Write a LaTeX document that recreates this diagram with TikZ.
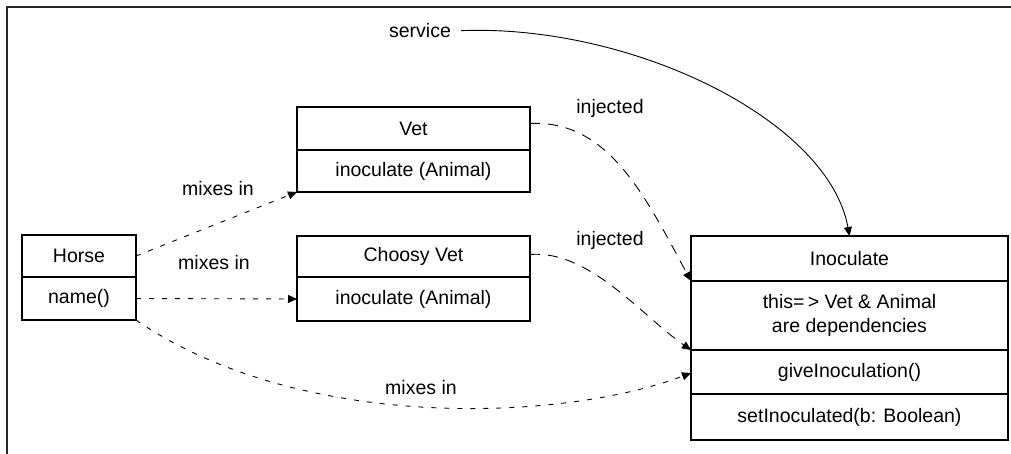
\documentclass[tikz,border=0pt]{standalone}
\usepackage{fontspec}
\setmainfont{Liberation Sans}
\usepackage{tikz}
\usetikzlibrary{positioning,arrows.meta}

\begin{document}
\begin{tikzpicture}[
  x=1pt, y=-1pt,
  every node/.style={font=\fontsize{19.5}{24}\selectfont},
  cls/.style={
    draw, line width=1.1pt, align=center, inner sep=0pt, outer sep=0pt,
    anchor=north
  },
  lbl/.style={inner sep=1pt},
  tip/.style={-{Triangle[length=9pt,width=8pt]}},
  mix/.style={tip, line width=0.9pt, dash pattern=on 5pt off 8pt},
  inj/.style={tip, line width=0.9pt, dash pattern=on 10pt off 8pt},
  svc/.style={tip, line width=0.9pt}
]
\useasboundingbox (0,0) rectangle (1011,454);
\draw[line width=1.3pt, black!85] (7,454) -- (7,7) -- (1011,7);

% classes
\node[cls, minimum width=114, minimum height=42, anchor=north west] (horse) at (22,235) {Horse};
\node[cls, minimum width=114, minimum height=43, below=0pt of horse] (hname) {name()};

\node[cls, minimum width=233, minimum height=43, anchor=north west] (vet) at (297,107) {Vet};
\node[cls, minimum width=233, minimum height=42, below=0pt of vet] (vetop) {inoculate (Animal)};

\node[cls, minimum width=233, minimum height=41, anchor=north west] (cvet) at (297,236) {Choosy Vet};
\node[cls, minimum width=233, minimum height=44, below=0pt of cvet] (cvop) {inoculate (Animal)};

\node[cls, minimum width=317, minimum height=45, anchor=north west] (ino) at (691,236) {Inoculate};
\node[cls, minimum width=317, minimum height=69, below=0pt of ino] (inodeps) {this=\,> Vet \& Animal\\are dependencies};
\node[cls, minimum width=317, minimum height=44, below=0pt of inodeps] (inogive) {giveInoculation()};
\node[cls, minimum width=317, minimum height=46, below=0pt of inogive] (inoset) {setInoculated(b: Boolean)};

% labels
\node[lbl] (service) at (420,31) {service};
\node[lbl] (injvet) at (610,108) {injected};
\node[lbl] (injcvet) at (610,240) {injected};
\node[lbl] (mixvet) at (218,189) {mixes in};
\node[lbl] (mixcvet) at (214,263) {mixes in};
\node[lbl] (mixino) at (421,388) {mixes in};

% connectors
\draw[svc, shorten <=9pt] (service.east) .. controls +(180,-7) and +(-21,-116) .. (ino.north);
\draw[inj] ([yshift=5pt]vet.east) .. controls +(79,-4) and +(-45,-83) .. (inodeps.north west);
\draw[inj] ([yshift=2pt]cvet.east) .. controls +(59,-5) and +(-49,-34) .. (inogive.north west);
\draw[mix] (horse.east) -- (vetop.south west);
\draw[mix] (hname.east) -- (cvop.west);
\draw[mix] (hname.south east) .. controls +(163,112) and +(-130,49) .. ([yshift=-1pt]inogive.west);
\end{tikzpicture}
\end{document}
